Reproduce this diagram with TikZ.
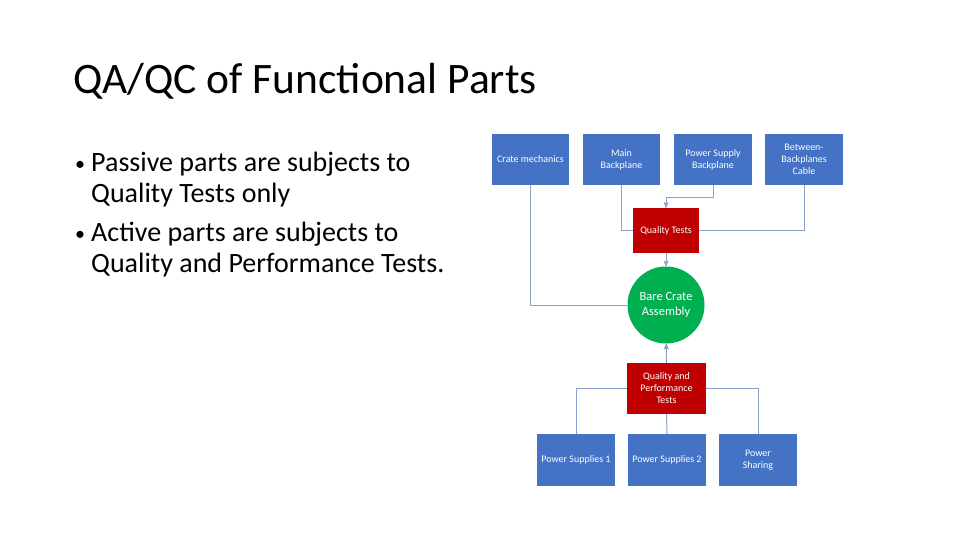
\documentclass[tikz,border=0pt]{standalone}
\usepackage{fontspec}
\setmainfont{Carlito}
\usepackage{tikz}
\usetikzlibrary{arrows}
\usetikzlibrary{shapes.geometric}
\usetikzlibrary{positioning}
\definecolor{partblue}{RGB}{68,114,196}
\definecolor{testred}{RGB}{192,0,0}
\definecolor{crategreen}{RGB}{0,176,80}
\definecolor{linkblue}{RGB}{140,160,200}
\newlength{\partwd}
\setlength{\partwd}{77.5pt}
\tikzstyle{boxstyle}=[rectangle, inner sep=2pt, align=center, text=white, font=\fontsize{10}{12}\selectfont]
\tikzstyle{part}=[boxstyle, fill=partblue, minimum width=\partwd, minimum height=51.5pt]
\tikzstyle{test}=[boxstyle, fill=testred, minimum height=51pt]
\tikzstyle{assembly}=[circle, fill=crategreen, text=white, align=center, inner sep=0pt, minimum size=77pt, font=\fontsize{12.5}{15}\selectfont]
\tikzstyle{linkstyle}=[draw=linkblue, line width=1pt]
\tikzstyle{edgestyle}=[linkstyle, ->, >=stealth']
\tikzstyle{bullettext}=[anchor=north west, inner sep=0pt, align=left, font=\fontsize{28}{31}\selectfont]
\newcommand{\partbox}[4]{\node [part] (#1) at (#2,#3) {#4};}
\newcommand{\bul}{\makebox[16pt][l]{\raisebox{1.5pt}{\fontsize{20}{20}\selectfont\textbullet}}}

\begin{document}
\begin{tikzpicture}[x=1pt, y=-1pt]
\useasboundingbox (0,0) rectangle (960,540);
% slide text
\node [anchor=base west, inner sep=0pt, font=\fontsize{43.5}{50}\selectfont] (title) at (73,94) {QA/QC of Functional Parts};
\node [bullettext] (passive) at (75,152) {\bul Passive parts are subjects to\\\hspace*{16pt}Quality Tests only};
\node [bullettext] (active) at (75,222) {\bul Active parts are subjects to\\\hspace*{16pt}Quality and Performance Tests.};
% parts
\partbox{crate}{530.5}{159.5}{Crate mechanics}
\partbox{main}{621.5}{159.5}{Main\\Backplane}
\partbox{psb}{713}{159.5}{Power Supply\\Backplane}
\partbox{cable}{804}{159.5}{Between-\\Backplanes\\Cable}
\node [test, minimum width=66pt, minimum height=45pt] (qt) at (666,230.5) {Quality Tests};
\node [assembly] (bca) at (666,305) {Bare Crate\\Assembly};
\node [test, minimum width=79pt] (qpt) at (666.5,388.5) {Quality and\\Performance\\Tests};
\partbox{ps1}{576}{460}{Power Supplies 1}
\partbox{ps2}{667}{460}{Power Supplies 2}
\partbox{share}{758}{460}{Power\\Sharing}
% connectors
\draw [linkstyle] (crate) |- (bca);
\draw [linkstyle] (main) |- (qt);
\draw [linkstyle] (cable) |- (qt);
\draw [edgestyle] (psb.south) -- ++(0,12) -| (qt.north);
\draw [edgestyle] (qt) -- (bca);
\draw [edgestyle] (qpt) -- (bca);
\draw [linkstyle] (ps1) |- (qpt);
\draw [linkstyle] (share) |- (qpt);
\draw [linkstyle] (ps2) -- (qpt);
\end{tikzpicture}
\end{document}
